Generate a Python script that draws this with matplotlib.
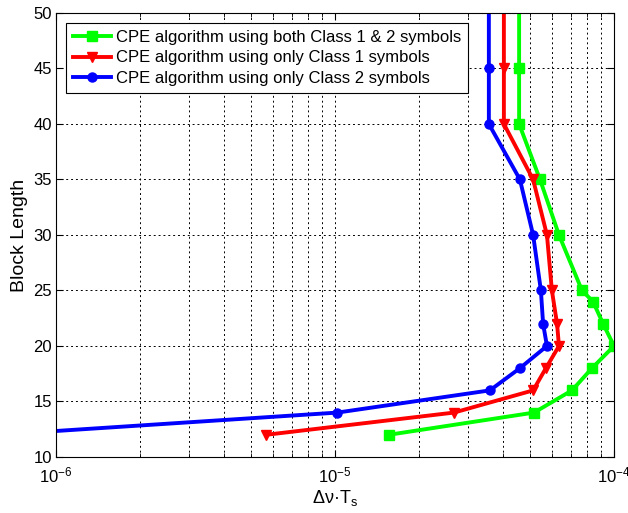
import numpy as np
import matplotlib.pyplot as plt
from matplotlib.ticker import LogLocator, NullFormatter

plt.rcParams['font.family'] = ['Liberation Sans', 'DejaVu Sans']
plt.rcParams['mathtext.fontset'] = 'custom'
plt.rcParams['mathtext.rm'] = 'Liberation Sans'
plt.rcParams['mathtext.it'] = 'Liberation Sans'

# data
y_both = [12, 14, 16, 18, 20, 22, 24, 25, 30, 35, 40, 45, 50]
x_both = [1.56e-5, 5.17e-5, 7.07e-5, 8.34e-5, 1.0e-4, 9.14e-5, 8.41e-5,
          7.68e-5, 6.35e-5, 5.43e-5, 4.57e-5, 4.57e-5, 4.57e-5]

y_c1 = [12, 14, 16, 18, 20, 22, 25, 30, 35, 40, 45, 50]
x_c1 = [5.67e-6, 2.67e-5, 5.13e-5, 5.70e-5, 6.35e-5, 6.25e-5, 5.99e-5,
        5.75e-5, 5.13e-5, 4.03e-5, 4.03e-5, 4.03e-5]

y_c2 = [12, 14, 16, 18, 20, 22, 25, 30, 35, 40, 45, 50]
x_c2 = [6.2e-7, 1.02e-5, 3.59e-5, 4.60e-5, 5.75e-5, 5.57e-5, 5.47e-5,
        5.13e-5, 4.60e-5, 3.56e-5, 3.56e-5, 3.56e-5]

labels = ["CPE algorithm using both Class 1 & 2 symbols",
          "CPE algorithm using only Class 1 symbols",
          "CPE algorithm using only Class 2 symbols"]

fig = plt.figure(figsize=(6.28, 5.13), dpi=100)
ax = fig.add_axes([0.0892, 0.1092, 0.8885, 0.8655])

lw = 2.8
ax.plot(x_both, y_both, color='#00ff00', lw=lw, marker='s', ms=6.5,
        markevery=slice(0, -1), label=labels[0])
ax.plot(x_c1, y_c1, color='#ff0000', lw=lw, marker='v', ms=7.5,
        markevery=slice(0, -1), label=labels[1])
ax.plot(x_c2, y_c2, color='#0000ff', lw=lw, marker='o', ms=6.5,
        markevery=slice(0, -1), label=labels[2])

ax.set_xscale('log')
ax.set_xlim(1e-6, 1e-4)
ax.set_ylim(10, 50)
ax.set_yticks(np.arange(10, 51, 5))
ax.xaxis.set_minor_locator(LogLocator(base=10, subs=np.arange(2, 10)))
ax.xaxis.set_minor_formatter(NullFormatter())

ax.grid(True, which='major', color='black', linestyle=(0, (2, 3)), lw=0.7)
ax.grid(True, which='minor', axis='x', color='black', linestyle=(0, (2, 3)), lw=0.7)

ax.tick_params(which='both', direction='in', top=True, right=True, labelsize=12)
ax.tick_params(which='major', length=5)
ax.tick_params(which='minor', length=3)
ax.tick_params(axis='x', which='major', pad=6)
ax.tick_params(axis='y', which='major', pad=3)
for sp in ax.spines.values():
    sp.set_linewidth(0.8)

ax.set_xlabel("Δν·T$_\\mathrm{s}$", fontsize=13, labelpad=2)
ax.set_ylabel("Block Length", fontsize=14, labelpad=4)

leg = ax.legend(loc='upper left', fontsize=12, fancybox=False, framealpha=1,
                edgecolor='black', handlelength=2.3, borderpad=0.4,
                labelspacing=0.35, handletextpad=0.3, borderaxespad=0.6)
leg.get_frame().set_linewidth(0.8)

fig.savefig("out.png", dpi=100)
